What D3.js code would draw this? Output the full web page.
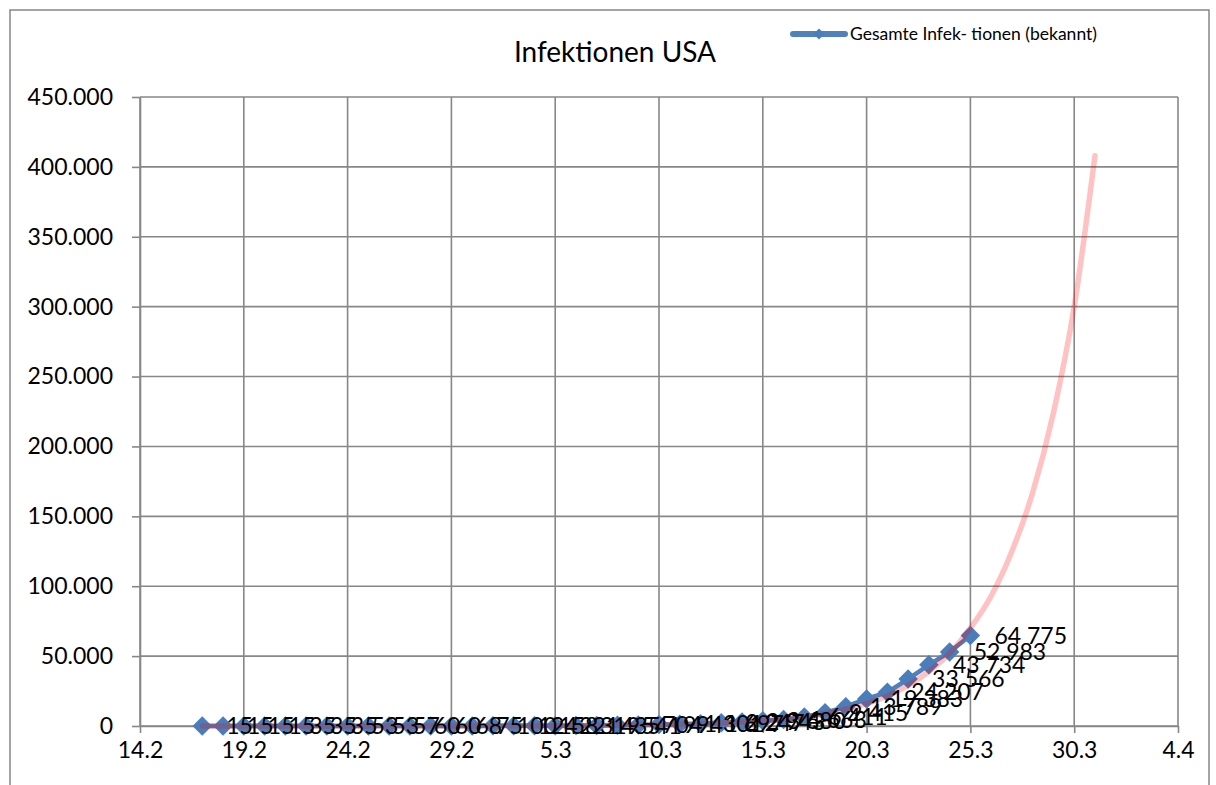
<!DOCTYPE html>
<html>
<head>
<meta charset="utf-8">
<script src="https://cdn.jsdelivr.net/npm/d3@7"></script>
<style>
  body { margin: 0; background: #fff; }
  svg { font-family: Lato, "Open Sans", sans-serif; }
</style>
</head>
<body>
<div id="graf"></div>
<script>
// Data
const tage = [
  "2020-02-17", "2020-02-18", "2020-02-19", "2020-02-20", "2020-02-21", "2020-02-22",
  "2020-02-23", "2020-02-24", "2020-02-25", "2020-02-26", "2020-02-27", "2020-02-28",
  "2020-02-29", "2020-03-01", "2020-03-02", "2020-03-03", "2020-03-04", "2020-03-05",
  "2020-03-06", "2020-03-07", "2020-03-08", "2020-03-09", "2020-03-10", "2020-03-11",
  "2020-03-12", "2020-03-13", "2020-03-14", "2020-03-15", "2020-03-16", "2020-03-17",
  "2020-03-18", "2020-03-19", "2020-03-20", "2020-03-21", "2020-03-22", "2020-03-23",
  "2020-03-24", "2020-03-25",
]
const infektionen = [
  15, 15, 15, 15, 35, 35, 35, 53, 53, 57, 60, 60, 68, 75, 100, 124, 158, 221, 319, 435,
  541, 704, 994, 1301, 1697, 2247, 2943, 3680, 4663, 6411, 9415, 13789, 19383, 24207,
  33566, 43734, 52983, 64775,
]
// Trendlinie
const trendTage = [
  "2020-02-17", "2020-02-24", "2020-03-01", "2020-03-05", "2020-03-08", "2020-03-10",
  "2020-03-12", "2020-03-14", "2020-03-15", "2020-03-16", "2020-03-17", "2020-03-18",
  "2020-03-19", "2020-03-20", "2020-03-21", "2020-03-22", "2020-03-23", "2020-03-24",
  "2020-03-25", "2020-03-26", "2020-03-27", "2020-03-28", "2020-03-29", "2020-03-30",
  "2020-03-31",
]
const trendWerte = [
  2, 15, 60, 200, 480, 860, 1550, 2800, 3700, 5000, 6700, 9000, 12000, 16000, 21500,
  29000, 39000, 52000, 70000, 93000, 125000, 167000, 224000, 300000, 408000,
]
const xTicks = [
  "2020-02-14", "2020-02-19", "2020-02-24", "2020-02-29", "2020-03-05", "2020-03-10",
  "2020-03-15", "2020-03-20", "2020-03-25", "2020-03-30", "2020-04-04",
]
const yTicks = [0, 50000, 100000, 150000, 200000, 250000, 300000, 350000, 400000, 450000]

const parse = d3.timeParse("%Y-%m-%d")
const fmtDatum = d3.timeFormat("%-d.%-m")
const fmtAchse = d3.formatLocale({ decimal: ",", thousands: ".", grouping: [3], currency: ["", ""] }).format(",d")
const fmtLabel = d3.formatLocale({ decimal: ",", thousands: " ", grouping: [3], currency: ["", ""] }).format(",d")

const punkte = tage.map((t, i) => ({ datum: parse(t), wert: infektionen[i] }))
const trend = trendTage.map((t, i) => ({ datum: parse(t), wert: trendWerte[i] }))

const W = 1216, H = 785
const margins = { left: 140, top: 97, right: 38, bottom: 59 }
const ancho = W - margins.left - margins.right
const alto = H - margins.top - margins.bottom

const svg = d3.select("#graf").append("svg").attr("width", W).attr("height", H)

// Rahmen
svg.append("rect")
  .attr("x", 10).attr("y", 10).attr("width", 1199).attr("height", 800)
  .attr("fill", "none").attr("stroke", "#868686").attr("stroke-width", 1.5)

svg.append("text")
  .attr("x", 615).attr("y", 62)
  .attr("text-anchor", "middle")
  .attr("font-size", 28)
  .text("Infektionen USA")

const g = svg.append("g").attr("transform", `translate(${margins.left}, ${margins.top})`)

// Escaladores
const x = d3.scaleTime()
  .domain([parse(xTicks[0]), parse(xTicks[xTicks.length - 1])])
  .range([0, ancho])
const y = d3.scaleLinear().domain([0, 450000]).range([alto, 0])

// Gitter
g.append("g").selectAll("line").data(yTicks).join("line")
  .attr("x1", 0).attr("x2", ancho)
  .attr("y1", (d) => y(d)).attr("y2", (d) => y(d))
  .attr("stroke", "#878787").attr("stroke-width", 1.6)
g.append("g").selectAll("line").data(xTicks).join("line")
  .attr("x1", (d) => x(parse(d))).attr("x2", (d) => x(parse(d)))
  .attr("y1", 0).attr("y2", alto)
  .attr("stroke", "#878787").attr("stroke-width", 1.6)

// Ejes
const xAxis = d3.axisBottom(x).tickValues(xTicks.map(parse)).tickFormat(fmtDatum).tickSize(7).tickSizeOuter(0)
const yAxis = d3.axisLeft(y).tickValues(yTicks).tickFormat(fmtAchse).tickSize(8).tickSizeOuter(0)

const gx = g.append("g").attr("transform", `translate(0, ${alto})`).call(xAxis)
const gy = g.append("g").call(yAxis)
for (const a of [gx, gy]) {
  a.selectAll("path, line").attr("stroke", "#878787").attr("stroke-width", 1.6)
  a.selectAll("text").attr("font-size", 23).attr("fill", "#000").attr("font-family", "Lato, sans-serif")
}
gx.selectAll("text").attr("dy", "0.95em")
gy.selectAll("text").attr("x", -27)

// Datenreihe
const linie = d3.line().x((d) => x(d.datum)).y((d) => y(d.wert))
g.append("path").datum(punkte)
  .attr("d", linie)
  .attr("fill", "none").attr("stroke", "#4F81BD").attr("stroke-width", 4.5)

g.append("g").selectAll("path").data(punkte).join("path")
  .attr("d", d3.symbol(d3.symbolSquare, 190))
  .attr("transform", (d) => `translate(${x(d.datum)}, ${y(d.wert)}) rotate(45)`)
  .attr("fill", "#4A7EBB")

// Trendlinie
g.append("path").datum(trend)
  .attr("d", linie.curve(d3.curveMonotoneX))
  .attr("fill", "none").attr("stroke", "rgba(255,0,0,0.24)")
  .attr("stroke-width", 5.5).attr("stroke-linecap", "round")

// Beschriftungen
g.append("g").selectAll("text").data(punkte).join("text")
  .attr("x", (d) => x(d.datum) + 24)
  .attr("y", (d) => y(d.wert))
  .attr("dy", "0.36em")
  .attr("font-size", 23)
  .text((d) => fmtLabel(d.wert))

// Legende
const leg = svg.append("g")
leg.append("line")
  .attr("x1", 793).attr("x2", 845).attr("y1", 34).attr("y2", 34)
  .attr("stroke", "#4F81BD").attr("stroke-width", 6).attr("stroke-linecap", "round")
leg.append("path")
  .attr("d", d3.symbol(d3.symbolSquare, 60))
  .attr("transform", "translate(819, 34) rotate(45)")
  .attr("fill", "#4A7EBB")
leg.append("text")
  .attr("x", 850).attr("y", 40)
  .attr("font-size", 17.5)
  .text("Gesamte Infek- tionen (bekannt)")
</script>
</body>
</html>
